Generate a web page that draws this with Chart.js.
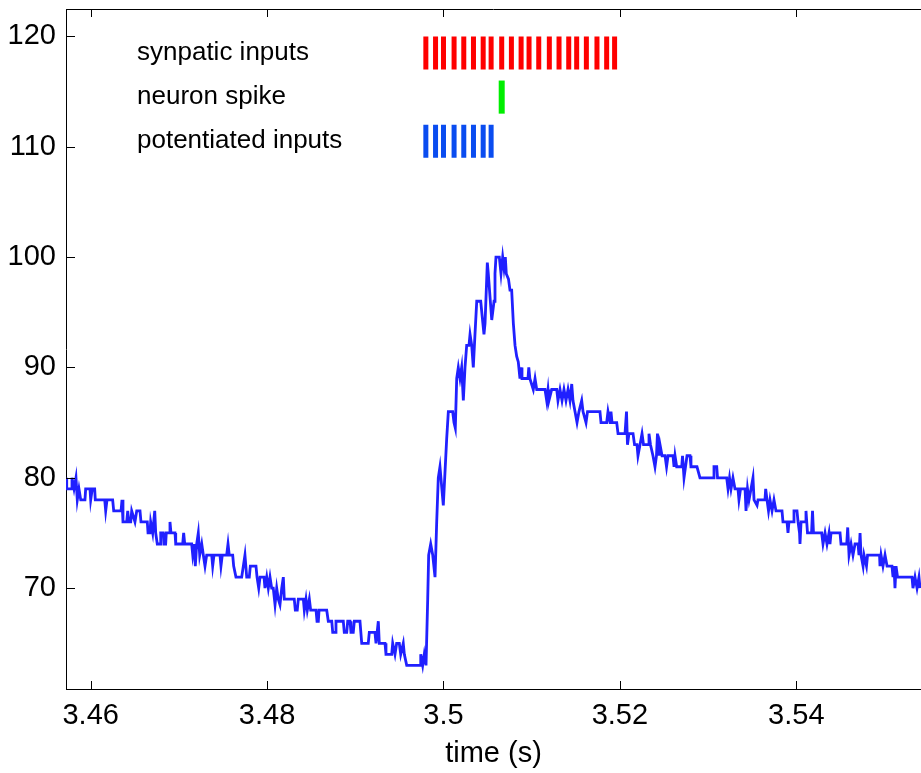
<!DOCTYPE html>
<html><head><meta charset="utf-8">
<script src="https://cdn.jsdelivr.net/npm/chart.js@4.4.0/dist/chart.umd.min.js"></script>
<style>html,body{margin:0;padding:0;background:#fff;overflow:hidden}canvas{display:block}</style>
</head><body>
<canvas id="c" width="921" height="773"></canvas>
<script>
// ---- data ----
const traceTime = [
3.45720,3.45728,3.45777,3.45788,3.45811,3.45833,3.45848,3.45867,3.45887,3.45935,
3.45943,3.45992,3.46000,3.46018,3.46045,3.46052,3.46159,3.46170,3.46185,3.46249,
3.46261,3.46344,3.46355,3.46366,3.46408,3.46420,3.46431,3.46454,3.46465,3.46502,
3.46522,3.46559,3.46570,3.46642,3.46650,3.46672,3.46680,3.46703,3.46726,3.46737,
3.46755,3.46786,3.46794,3.46823,3.46831,3.46850,3.46857,3.46891,3.46899,3.46910,
3.46956,3.46964,3.47043,3.47054,3.47066,3.47145,3.47157,3.47175,3.47186,3.47202,
3.47220,3.47236,3.47259,3.47277,3.47296,3.47315,3.47372,3.47383,3.47398,3.47466,
3.47477,3.47492,3.47542,3.47557,3.47571,3.47610,3.47621,3.47647,3.47712,3.47749,
3.47769,3.47798,3.47810,3.47874,3.47886,3.47905,3.47920,3.47965,3.47976,3.47996,
3.48014,3.48033,3.48052,3.48070,3.48090,3.48109,3.48127,3.48146,3.48166,3.48184,
3.48195,3.48308,3.48320,3.48342,3.48354,3.48411,3.48422,3.48441,3.48456,3.48479,
3.48494,3.48555,3.48566,3.48581,3.48589,3.48676,3.48694,3.48733,3.48744,3.48770,
3.48781,3.48864,3.48875,3.48903,3.48914,3.48940,3.48951,3.48977,3.48989,3.49053,
3.49063,3.49073,3.49147,3.49159,3.49223,3.49235,3.49261,3.49272,3.49337,3.49348,
3.49413,3.49424,3.49450,3.49469,3.49499,3.49515,3.49544,3.49556,3.49583,3.49734,
3.49742,3.49764,3.49782,3.49802,3.49810,3.49821,3.49832,3.49855,3.49878,3.49904,
3.49923,3.49941,3.49960,3.49998,3.50036,3.50055,3.50104,3.50119,3.50134,3.50150,
3.50168,3.50187,3.50206,3.50225,3.50244,3.50263,3.50289,3.50301,3.50320,3.50338,
3.50357,3.50377,3.50422,3.50459,3.50471,3.50497,3.50508,3.50547,3.50573,3.50584,
3.50595,3.50633,3.50652,3.50671,3.50686,3.50701,3.50712,3.50737,3.50754,3.50773,
3.50792,3.50811,3.50830,3.50848,3.50867,3.50879,3.50890,3.50905,3.50958,3.50967,
3.50979,3.51018,3.51038,3.51057,3.51151,3.51170,3.51185,3.51196,3.51227,3.51284,
3.51298,3.51321,3.51344,3.51366,3.51389,3.51412,3.51434,3.51454,3.51468,3.51491,
3.51514,3.51536,3.51567,3.51582,3.51616,3.51633,3.51774,3.51786,3.51850,3.51865,
3.51888,3.51899,3.51911,3.51964,3.51979,3.52058,3.52075,3.52086,3.52103,3.52149,
3.52166,3.52194,3.52205,3.52228,3.52251,3.52268,3.52319,3.52330,3.52347,3.52375,
3.52398,3.52415,3.52426,3.52444,3.52455,3.52478,3.52512,3.52529,3.52546,3.52602,
3.52614,3.52625,3.52644,3.52701,3.52710,3.52727,3.52744,3.52761,3.52795,3.52806,
3.52874,3.52908,3.53059,3.53067,3.53098,3.53107,3.53211,3.53226,3.53243,3.53260,
3.53282,3.53305,3.53339,3.53350,3.53368,3.53419,3.53430,3.53447,3.53464,3.53487,
3.53509,3.53521,3.53555,3.53566,3.53645,3.53653,3.53668,3.53685,3.53702,3.53725,
3.53747,3.53770,3.53838,3.53849,3.53895,3.53906,3.53917,3.53963,3.53974,3.54008,
3.54020,3.54037,3.54042,3.54054,3.54099,3.54110,3.54127,3.54173,3.54184,3.54195,
3.54288,3.54303,3.54326,3.54348,3.54371,3.54382,3.54394,3.54496,3.54507,3.54572,
3.54583,3.54598,3.54621,3.54643,3.54666,3.54700,3.54711,3.54723,3.54734,3.54757,
3.54768,3.54796,3.54808,3.54944,3.54949,3.54961,3.54983,3.55006,3.55029,3.55085,
3.55097,3.55108,3.55119,3.55131,3.55148,3.55312,3.55323,3.55346,3.55369,3.55391,
3.55403
];
const traceValue = [
80,79,79,80,79,80,78,79,78,78,
79,79,78,79,79,78,78,77,78,78,
77,77,78,76,76,77,76,76,77,76,
77,77,76,76,75,75,76,75,77,75,
74,74,75,75,74,74,75,75,76,75,
75,74,74,75,74,74,73,74,72,74,
75,73,74,73,72,73,73,72,73,73,
72,73,73,74,73,73,72,71,71,73,
71,71,72,72,71,70,71,71,70,71,
70,71,70,70,68.5,70,69,68.5,70,71,
69,69,68,68,69,69,68,69,68,69,
68,68,67,67,68,68,67,67,66,66,
67,67,66,66,67,67,66,66,67,67,
66,65,65,66,66,65,67,65,65,64,
64,65,64,65,65,64,65,64,63,63,
64,63,64,63,63,69,73,74,73,71,
76,80,81,77.5,83.5,86,86,85,84.5,89,
90,89,90,87,90,92,92,93,92,90,
93,96,96,93,94,99.5,98.5,94.3,96,98.5,
100,100,98.5,100,99,100,98.5,98,97,97,
94,92,91,90.5,89,90,89,89,89,90,
89,88,89,88,88,87,88,87,88,88,
87,88,87,88,87,88,87,88.5,87,86,
85,86,87,86,85,86,86,85,85,86,
85,86,85,85,84,84,86,83,84,84,
83,83,82,83,84,83,83,84,83,82,
81,82,84,82,83,82,82,81,82,82,
81,82,81,81,82,80,81,82,82,81,
81,80,80,81,81,80,80,79,80,79,
80,79,79,78,79,79,77,79,78,79,
80,78,77.5,78,78,79,78,77,78,77,
78,77,77,76,76,75,76,76,77,77,
76,75,74,76,76,77,75,75,77,75,
75,74,75,74,75,74,75,75,74,74,
75.5,73,74,73,74,74,73,75,73,72,
73,72,73,73,72,73,72,73,72,72,
71,72,70,72,71,71,70,71,70,71,
70
];
const synapticTimes = [3.4980,3.4991,3.5000,3.5012,3.5023,3.5034,3.5045,3.5054,3.5066,3.5077,3.5088,3.5097,3.5108,3.5120,3.5131,3.5142,3.5151,3.5162,3.5174,3.5185,3.5194];
const spikeTimes = [3.5066];
const potentiatedTimes = [3.4980,3.4991,3.5000,3.5012,3.5023,3.5034,3.5045,3.5054];
const synapticRow = [117,120];
const spikeRow = [113,116];
const potentiatedRow = [109,112];
const labelTexts = ['synpatic inputs','neuron spike','potentiated inputs'];
const labelValues = [118.5,114.5,110.5];
const labelTime = 3.46525;
const xTicks = [3.46,3.48,3.50,3.52,3.54];
const yTicks = [70,80,90,100,110,120];
const xRange = [3.45720,3.55414];
const yRange = [60.86,122.484];

// ---- build ----
const FONT = "'Liberation Sans', Arial, Helvetica, sans-serif";
function raster(times,row){const d=[];times.forEach(t=>{d.push({x:t,y:row[0]},{x:t,y:row[1]},{x:t,y:null});});return d;}
const traceData = traceTime.map((t,i)=>({x:t,y:traceValue[i]}));

const framePlugin = {
  id:'frame',
  afterDatasetsDraw(chart){
    const {ctx, chartArea:a, scales:{x,y}} = chart;
    ctx.save();
    ctx.fillStyle='#000';
    ctx.font = "26px "+FONT;
    ctx.textAlign='left'; ctx.textBaseline='middle';
    labelTexts.forEach((s,i)=>ctx.fillText(s, x.getPixelForValue(labelTime), y.getPixelForValue(labelValues[i])));
    ctx.strokeStyle='#000'; ctx.lineWidth=1;
    ctx.beginPath();
    ctx.moveTo(a.left, Math.round(a.top)+0.5); ctx.lineTo(a.right, Math.round(a.top)+0.5);
    xTicks.forEach(v=>{const px=Math.round(x.getPixelForValue(v))+0.5;
      ctx.moveTo(px,a.bottom); ctx.lineTo(px,a.bottom-8);
      ctx.moveTo(px,a.top); ctx.lineTo(px,a.top+8);});
    yTicks.forEach(v=>{const py=Math.round(y.getPixelForValue(v))+0.5;
      ctx.moveTo(a.left,py); ctx.lineTo(a.left+9,py);});
    ctx.stroke();
    ctx.restore();
  }
};

new Chart(document.getElementById('c'),{
  type:'scatter',
  data:{datasets:[
    {data:traceData, showLine:true, borderColor:'#2020ff', borderWidth:2.8, pointRadius:0, borderJoinStyle:'miter', tension:0},
    {data:raster(synapticTimes,synapticRow), showLine:true, spanGaps:false, borderColor:'#ff0000', borderWidth:5, borderCapStyle:'butt', pointRadius:0},
    {data:raster(spikeTimes,spikeRow), showLine:true, spanGaps:false, borderColor:'#00ee00', borderWidth:6, borderCapStyle:'butt', pointRadius:0},
    {data:raster(potentiatedTimes,potentiatedRow), showLine:true, spanGaps:false, borderColor:'#0a4cf0', borderWidth:5, borderCapStyle:'butt', pointRadius:0}
  ]},
  options:{
    responsive:false, animation:false, devicePixelRatio:1,
    layout:{padding:{top:9,left:0,right:0,bottom:0}},
    plugins:{legend:{display:false}, tooltip:{enabled:false}},
    scales:{
      x:{type:'linear', position:'bottom', min:xRange[0], max:xRange[1],
        grid:{display:false, drawTicks:false}, border:{display:true,color:'#000',width:1},
        ticks:{autoSkip:false, maxRotation:0, color:'#000', padding:10, font:{family:FONT,size:29},
          callback:v=>String(parseFloat(Number(v).toFixed(2)))},
        title:{display:true, text:'time (s)', color:'#000', font:{family:FONT,size:29}, padding:{top:0,bottom:2}},
        afterBuildTicks(s){s.ticks=xTicks.map(v=>({value:v}));},
        afterFit(s){s.height=84; s.paddingLeft=0; s.paddingRight=0;}
      },
      y:{type:'linear', min:yRange[0], max:yRange[1],
        grid:{display:false, drawTicks:false}, border:{display:true,color:'#000',width:1},
        ticks:{autoSkip:false, color:'#000', padding:10, font:{family:FONT,size:29},
          callback:v=>String(v)},
        afterBuildTicks(s){s.ticks=yTicks.map(v=>({value:v}));},
        afterFit(s){s.width=66; s.paddingTop=0; s.paddingBottom=0;}
      }
    }
  },
  plugins:[framePlugin]
});
</script>
</body></html>
